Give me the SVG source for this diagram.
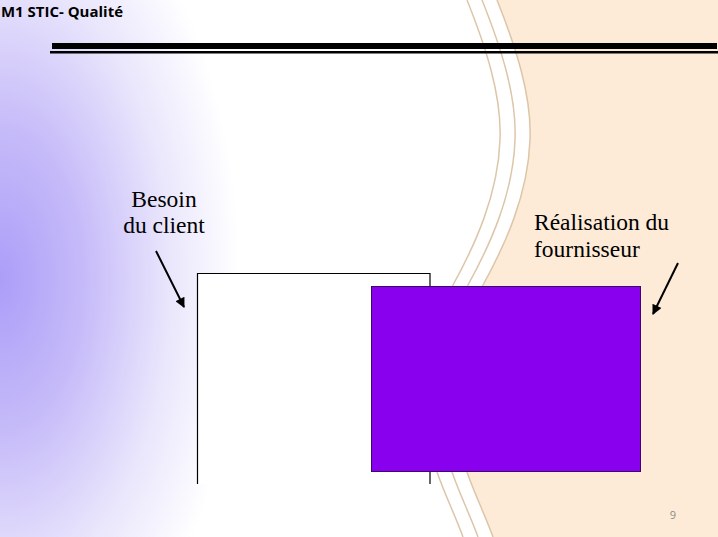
<svg xmlns="http://www.w3.org/2000/svg" width="718" height="537" viewBox="0 0 718 537">
<defs>
<radialGradient id="lav" gradientUnits="userSpaceOnUse" cx="0" cy="280" r="240" gradientTransform="translate(0 280) scale(1 1.8) translate(0 -280)">
<stop offset="0" stop-color="#AC9DF8"/>
<stop offset="0.35" stop-color="#C6BBF9"/>
<stop offset="0.7" stop-color="#E9E5FC"/>
<stop offset="1" stop-color="#FFFFFF"/>
</radialGradient>
<marker id="ah" viewBox="0 0 10 10" refX="9" refY="5" markerWidth="6" markerHeight="5" orient="auto" markerUnits="strokeWidth">
<path d="M0,0 L10,5 L0,10 Z" fill="#000"/>
</marker>
</defs>
<style>
.lbl{font-family:"Liberation Serif","Times New Roman",serif;font-size:23.5px;fill:#000}
.wave{fill:none;stroke:#DCC6A9;stroke-width:1.5}
.arr{stroke:#000;stroke-width:2;fill:none;marker-end:url(#ah)}
</style>
<g id="background">
<rect x="0" y="0" width="718" height="537" fill="#FFFFFF"/>
<rect x="0" y="0" width="718" height="537" fill="url(#lav)"/>
<path d="M497,0 C515,45 532,95 530,140 C528,195 505,245 483,285 C462,325 448,360 450,395 C452,430 460,455 467,472 C475,495 485,515 493,537 L718,537 L718,0 Z" fill="#FDEBD7"/>
<path class="wave" d="M497,0 C515,45 532,95 530,140 C528,195 505,245 483,285 C462,325 448,360 450,395 C452,430 460,455 467,472 C475,495 485,515 493,537"/>
<path class="wave" transform="translate(-15 0)" d="M497,0 C515,45 532,95 530,140 C528,195 505,245 483,285 C462,325 448,360 450,395 C452,430 460,455 467,472 C475,495 485,515 493,537"/>
<path class="wave" transform="translate(-30 0)" d="M497,0 C515,45 532,95 530,140 C528,195 505,245 483,285 C462,325 448,360 450,395 C452,430 460,455 467,472 C475,495 485,515 493,537"/>
</g>
<g id="header">
<text x="1" y="17" font-family="'Open Sans','Liberation Sans',sans-serif" font-weight="bold" font-size="14" textLength="122" lengthAdjust="spacingAndGlyphs" fill="#000">M1 STIC- Qualité</text>
<rect x="52" y="43" width="665" height="6" fill="#000"/>
<rect x="50" y="51" width="668" height="2.5" fill="#000"/>
</g>
<g id="besoin-client">
<rect x="197.5" y="273.5" width="232.5" height="210" fill="#FFFFFF"/>
<path d="M197.5,484 V273.5 H430 V484" fill="none" stroke="#000" stroke-width="1.2"/>
</g>
<g id="realisation-fournisseur">
<rect x="371.5" y="286.5" width="269" height="185" fill="#8800EE" stroke="#3A0A66" stroke-width="1"/>
</g>
<g id="label-besoin">
<text class="lbl" text-anchor="middle" x="164" y="207">Besoin</text>
<text class="lbl" text-anchor="middle" x="164" y="233">du client</text>
</g>
<g id="label-realisation">
<text class="lbl" x="534" y="230">Réalisation du</text>
<text class="lbl" x="534" y="257">fournisseur</text>
</g>
<g id="connectors">
<line class="arr" x1="156" y1="251" x2="184" y2="307"/>
<line class="arr" x1="678" y1="263" x2="653" y2="314"/>
</g>
<g id="page-number">
<text x="673" y="519" text-anchor="middle" font-family="'Open Sans','Liberation Sans',sans-serif" font-size="11" fill="#8C8C8C">9</text>
</g>
</svg>
